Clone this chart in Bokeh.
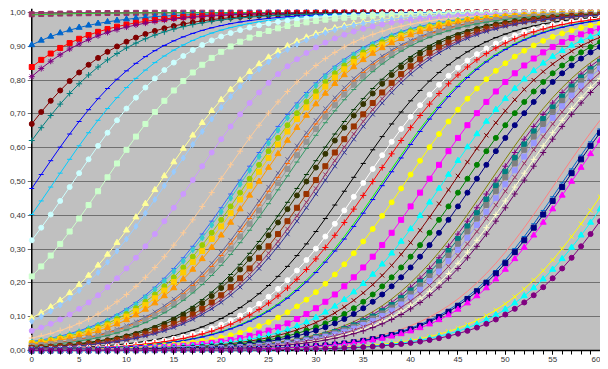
import numpy as np
from bokeh.plotting import figure
from bokeh.models import (BoxAnnotation, FixedTicker, CustomJSTickFormatter,
                          ColumnDataSource, Span)
from bokeh.embed import file_html
from bokeh.resources import INLINE

# ---- data ----
x_values = list(range(0, 61))
x_ticks = list(range(0, 61, 5))
y_ticks = [0.0, 0.1, 0.2, 0.3, 0.4, 0.5, 0.6, 0.7, 0.8, 0.9, 1.0]

# x at which each series crosses 0,50
midpoints = [-32.0, -30.0, -13.6, -10.0, -8.8, -4.3, -3.0, 0.5, 2.4, 4.4,
             7.7, 13.6, 14.3, 16.9, 19.8, 21.9, 22.2, 22.8, 23.3, 24.0,
             25.4, 25.7, 26.1, 26.6, 28.5, 29.0, 29.9, 30.5, 30.9, 33.7,
             35.1, 36.0, 37.1, 37.3, 39.5, 41.8, 43.5, 44.6, 45.8, 46.8,
             48.4, 48.9, 49.3, 49.7, 50.2, 50.7, 51.4, 51.9, 55.4, 56.1,
             56.4, 57.0, 61.1, 62.0, 62.9]
steepness = 0.165

colors = ["#993366", "#33cc33", "#0066cc", "#ff0000", "#800080", "#800000",
          "#008080", "#0000ff", "#00ccff", "#ccffff", "#ccffcc", "#ffff99",
          "#99ccff", "#cc99ff", "#ffcc99", "#3366ff", "#33cccc", "#99cc00",
          "#ffcc00", "#ff9900", "#666699", "#ff6600", "#969696", "#339966",
          "#003300", "#333300", "#993300", "#993366", "#333399", "#000000",
          "#ffffff", "#ff0000", "#00ff00", "#0000ff", "#ffff00", "#ff00ff",
          "#00ffff", "#800000", "#008000", "#000080", "#808000", "#800080",
          "#008080", "#808080", "#9999ff", "#993366", "#ffffcc", "#660066",
          "#ff8080", "#0066cc", "#000080", "#ff00ff", "#ffff00", "#00ffff",
          "#800080"]

markers = ["square", None, "triangle", "square", "asterisk", "circle",
           "cross", "dash", "dash", "circle", "square", "triangle",
           "diamond", "circle", "cross", "dash", "diamond", "circle",
           "square", "triangle", "x", "dash", "square", "dash",
           "dash", "circle", "square", "x", "x", "dash",
           "circle", "cross", None, "dash", "circle", "square",
           "triangle", "x", "circle", "circle", None, "cross",
           "square", "square", "square", "x", "cross", "cross",
           None, "dash", "square", "triangle", "x", "triangle",
           "circle"]

# ---- figure ----
p = figure(width=600, height=364, output_backend="svg", toolbar_location=None,
           x_range=(-0.45, 60.05), y_range=(-0.012, 1.012),
           min_border_left=27, min_border_right=0, min_border_top=8,
           min_border_bottom=0)
p.background_fill_color = "white"
p.border_fill_color = "white"
p.outline_line_color = None

plot_area = BoxAnnotation(left=0, right=60, bottom=0, top=1,
                          fill_color="#c0c0c0", fill_alpha=1.0,
                          line_color=None, level="image")
p.add_layout(plot_area)

p.xgrid.visible = False
p.ygrid.ticker = FixedTicker(ticks=y_ticks)
p.ygrid.grid_line_color = "#707070"
p.ygrid.grid_line_width = 1

p.xaxis.ticker = FixedTicker(ticks=x_ticks, minor_ticks=x_values)
p.yaxis.ticker = FixedTicker(ticks=y_ticks)
p.yaxis.formatter = CustomJSTickFormatter(
    code="return tick.toFixed(2).replace('.', ',');")

for ax in (p.xaxis[0], p.yaxis[0]):
    ax.axis_line_color = None
    ax.major_tick_line_color = "black"
    ax.minor_tick_line_color = "black"
    ax.major_label_text_font = "Liberation Sans"
    ax.major_label_text_font_size = "8px"
    ax.major_label_text_color = "#333333"
    ax.major_label_standoff = 2

# x ticks run from the zero line down to the frame edge
p.xaxis.major_tick_in = 4
p.xaxis.major_tick_out = 0
p.xaxis.minor_tick_in = 4
p.xaxis.minor_tick_out = 0
p.yaxis.major_tick_in = 0
p.yaxis.major_tick_out = 0
p.yaxis.minor_tick_in = 0
p.yaxis.minor_tick_out = 0

xs = np.array(x_values, dtype=float)
for m, c, mk in zip(midpoints, colors, markers):
    ys = 1.0 / (1.0 + np.exp(-steepness * (xs - m)))
    src = ColumnDataSource(dict(x=x_values, y=ys))
    p.line("x", "y", source=src, line_color=c, line_width=1)
    if mk is not None:
        size = 6 if mk in ("triangle", "diamond", "asterisk", "x", "cross") else 5
        p.scatter("x", "y", source=src, marker=mk, size=size,
                  fill_color=c, line_color=c, line_width=1)

# axis lines through zero
p.add_layout(Span(location=0, dimension="height", line_color="black",
                  line_width=1.5, level="underlay"))
p.add_layout(Span(location=0, dimension="width", line_color="black",
                  line_width=1.5, level="underlay"))

open("out.html", "w").write(file_html(p, INLINE))
